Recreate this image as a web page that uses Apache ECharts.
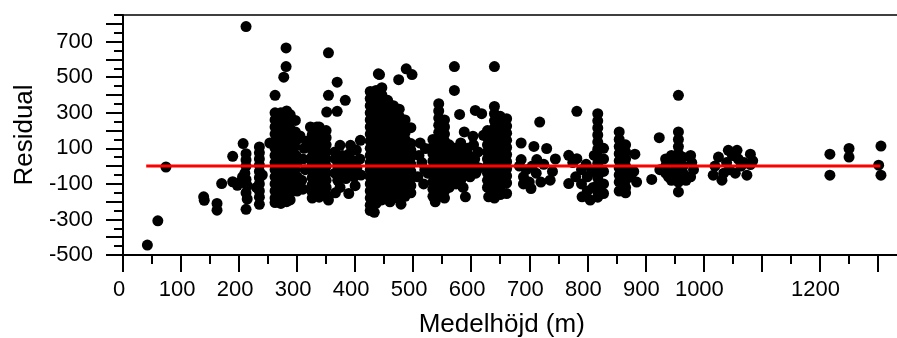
<!DOCTYPE html>
<html>
<head>
<meta charset="utf-8">
<script src="https://cdn.jsdelivr.net/npm/echarts@6/dist/echarts.min.js"></script>
<style>
html,body{margin:0;padding:0;background:#fff;}
#chart{width:897px;height:338px;}
</style>
</head>
<body>
<div id="chart"></div>
<script>
// ---- data: [Medelhöjd (m), Residual] ----
const lowEnd = [[42,-444],[60,-308],[74,-5],[139,-173],[140,-192],[162,-210],[162,-248],[170,-98],[189,55],[189,-88],[197,-108]];
const band210 = [[207,127],[212,785],[212,-243],[212,70],[212,35],[212,0],[210,-40],[212,-75],[214,-110],[212,-150],[214,-185],[204,-85],[206,-60]];
const band235 = [[235,108],[235,75],[235,40],[235,5],[235,-30],[235,-65],[235,-100],[235,-140],[235,-175],[235,-215],[230,-120],[240,-50]];
const band270 = [
  [262,300],[262,260],[262,220],[262,180],[262,140],[262,100],[262,60],[262,20],[262,-20],[262,-60],[262,-100],[262,-140],[262,-180],[262,-205],
  [272,300],[272,260],[272,220],[272,180],[272,140],[272,100],[272,60],[272,20],[272,-20],[272,-60],[272,-100],[272,-140],[272,-180],[272,-210],
  [282,310],[282,270],[282,230],[282,190],[282,150],[282,110],[282,70],[282,30],[282,-10],[282,-50],[282,-90],[282,-130],[282,-170],[282,-200],
  [288,290],[288,250],[288,210],[288,170],[288,130],[288,90],[288,50],[288,10],[288,-30],[288,-70],[288,-110],[288,-150],[288,-190],
  [262,398],[277,500],[281,560],[281,665],[253,130]
];
const band300 = [[297,257],[297,192],[300,150],[296,110],[298,60],[300,20],[296,-20],[300,-60],[297,-100],[300,-140],
  [312,100],[310,40],[314,-20],[308,-80],[310,-130],[305,170],[316,140]];
const band340 = [
  [326,215],[326,175],[326,135],[326,95],[326,55],[326,15],[326,-25],[326,-65],[326,-105],[326,-145],[326,-180],
  [338,220],[338,180],[338,140],[338,100],[338,60],[338,20],[338,-20],[338,-60],[338,-100],[338,-140],[338,-175],
  [350,200],[350,160],[350,120],[350,80],[350,40],[350,0],[350,-40],[350,-80],[350,-120],[350,-160],[354,-191],
  [323,220],[334,220],[328,-154],
  [351,304],[369,308],[354,398],[383,370],[354,637],[369,472]
];
const band390 = [[365,80],[374,117],[392,117],[409,145],[366,40],[378,60],[390,70],[402,90],[370,0],[382,20],[396,30],[408,40],
  [365,-40],[378,-30],[390,-20],[403,-10],[370,-80],[384,-70],[398,-60],[410,-50],[374,-120],[389,-154],[400,-110],[366,-150]];
const band460 = [
  [426,420],[426,380],[426,340],[426,300],[426,260],[426,220],[426,180],[426,140],[426,100],[426,60],[426,20],[426,-20],[426,-60],[426,-100],[426,-140],[426,-180],[426,-220],[426,-250],
  [436,426],[436,390],[436,350],[436,310],[436,270],[436,230],[436,190],[436,150],[436,110],[436,70],[436,30],[436,-10],[436,-50],[436,-90],[436,-130],[436,-170],[436,-210],[433,-260],
  [446,441],[446,400],[446,360],[446,320],[446,280],[446,240],[446,200],[446,160],[446,120],[446,80],[446,40],[446,0],[446,-40],[446,-80],[446,-120],[446,-160],[446,-190],
  [456,370],[456,330],[456,290],[456,250],[456,210],[456,170],[456,130],[456,90],[456,50],[456,10],[456,-30],[456,-70],[456,-110],[456,-150],[460,-201],
  [466,340],[466,300],[466,260],[466,220],[466,180],[466,140],[466,100],[466,60],[466,20],[466,-20],[466,-60],[466,-100],[466,-140],[466,-180],
  [476,320],[476,280],[476,240],[476,200],[476,160],[476,120],[476,80],[476,40],[476,0],[476,-40],[476,-80],[476,-120],[476,-160],[479,-214],
  [486,260],[486,220],[486,188],[486,150],[486,110],[486,70],[486,30],[486,-10],[486,-50],[486,-90],[486,-130],[486,-170],
  [496,216],[496,127],[496,90],[496,50],[496,10],[496,-30],[496,-70],[496,-110],[496,-150],
  [440,519],[442,515],[475,486],[488,547],[498,515]
];
const band515 = [[521,99],[510,60],[515,20],[520,-20],[508,-60],[518,-100],[525,-40],[512,130]];
const band545 = [
  [534,150],[534,110],[534,70],[534,30],[534,-10],[534,-50],[534,-90],[534,-130],[534,-170],
  [544,351],[544,310],[544,270],[544,230],[544,190],[544,150],[544,110],[544,70],[544,30],[544,-10],[544,-50],[544,-90],[544,-130],[544,-170],[538,-201],
  [554,260],[554,220],[554,180],[554,140],[554,100],[554,60],[554,20],[554,-20],[554,-60],[554,-100],[554,-140],[554,-180],
  [562,120],[562,80],[562,40],[562,0],[562,-40],[562,-80],[562,-120]
];
const band590 = [[571,560],[571,426],[580,291],[588,192],[603,168],[621,173],[607,313],[618,295],[590,-173],
  [572,100],[572,60],[572,20],[572,-20],[572,-60],[574,-100],[582,130],[582,80],[584,40],[582,0],[584,-40],[582,-80],[586,-120],
  [594,100],[596,60],[594,20],[596,-20],[598,-60],[604,120],[606,40],[606,0],[608,-40],[612,80],[614,-10]];
const band645 = [
  [628,200],[628,160],[628,120],[628,80],[628,40],[628,0],[628,-40],[628,-80],[628,-120],[630,-173],
  [640,336],[640,295],[640,255],[640,215],[640,175],[640,135],[640,95],[640,55],[640,15],[640,-25],[640,-65],[640,-105],[640,-145],[640,-180],
  [650,280],[650,240],[650,200],[650,160],[650,120],[650,80],[650,40],[650,0],[650,-40],[650,-80],[650,-120],[650,-160],
  [661,267],[661,225],[661,185],[661,145],[661,105],[661,65],[661,25],[661,-15],[661,-55],[661,-95],[661,-154],
  [640,560]
];
const band710 = [[686,130],[708,111],[730,99],[718,248],[686,37],[713,37],[703,-126],[736,-79],
  [695,-20],[690,-60],[705,0],[712,-40],[720,-90],[725,10],[700,-90],[683,0],[690,-100],[740,-30],[745,40]];
const band800 = [[782,308],[768,61],[782,42],[768,-98],[791,-173],[805,-191],[828,-154],
  [818,295],[818,255],[818,215],[818,175],[818,135],[818,95],[818,55],[818,15],[818,-25],[818,-65],[818,-105],[818,-145],[818,-175],
  [775,20],[790,-20],[800,-60],[790,-100],[810,-120],[798,10],[808,-30],[780,-60],[812,60],[800,-140],
  [828,100],[828,40],[828,-30],[828,-100]];
const band860 = [[855,192],[855,150],[855,110],[855,70],[855,30],[855,-10],[855,-50],[855,-90],[855,-140],
  [866,120],[866,80],[866,40],[866,0],[866,-40],[866,-80],[866,-120],[866,-150],
  [882,67],[875,-60],[880,-30],[885,-90]];
const band950 = [[911,-75],[924,160],[957,398],
  [957,192],[957,150],[957,110],[957,70],[957,30],[957,-10],[957,-50],[957,-90],[957,-145],
  [935,40],[935,0],[935,-40],[945,60],[945,-80],[950,20],[950,-30],[965,50],[965,0],[965,-40],[970,-80],[978,60],[980,20],[983,-20],[978,-60],[940,-60],[925,-20]];
const band1050 = [[1026,51],[1043,89],[1058,89],[1081,67],[1081,9],[1017,-51],[1032,-79],[1075,-51],
  [1020,0],[1040,20],[1050,60],[1060,40],[1065,0],[1045,-20],[1055,-40],[1070,20],[1035,-40],[1085,30]];
const highEnd = [[1218,67],[1218,-51],[1251,99],[1251,51],[1306,113],[1302,5],[1306,-51]];

const residualPoints = [].concat(lowEnd, band210, band235, band270, band300, band340, band390, band460,
  band515, band545, band590, band645, band710, band800, band860, band950, band1050, highEnd);

// zero reference line
const zeroLine = [[40,0],[1305,0]];

// axis ticks & labels
const xMajorTicks = [0,100,200,300,400,500,600,700,800,900,1000,1100,1200,1300];
const xMinorTicks = [50,150,250,350,450,550,650,750,850,950,1050,1150,1250];
const xTickLabels = [0,100,200,300,400,500,600,700,800,900,1000,1200];
const yMajorTicks = [-500,-400,-300,-200,-100,0,100,200,300,400,500,600,700,800];
const yMinorTicks = [-450,-350,-250,-150,-50,50,150,250,350,450,550,650,750,850];
const yTickLabels = [-500,-300,-100,100,300,500,700];

const FONT = '"Liberation Sans", Arial, Helvetica, sans-serif';
const chart = echarts.init(document.getElementById('chart'), null, {renderer: 'canvas'});

const baseX = {type:'value', min:0, max:1350, splitLine:{show:false}, position:'bottom', offset:0};
const baseY = {type:'value', min:-500, max:850, splitLine:{show:false}, position:'left', offset:0};
const plain = v => String(v);

chart.setOption({
  animation: false,
  backgroundColor: '#fff',
  grid: {left:123, top:15, width:783.5, height:240, containLabel:false, outerBoundsMode:'none',
         show:true, borderColor:'#000', borderWidth:1.5, backgroundColor:'transparent'},
  xAxis: [
    Object.assign({}, baseX, {
      name: 'Medelhöjd (m)', nameLocation:'middle', nameGap:57,
      nameTextStyle:{fontSize:26, color:'#000', fontFamily:FONT, padding:[0,26,0,0]},
      axisLine:{show:true, onZero:false, lineStyle:{color:'#000', width:2}},
      axisTick:{show:true, length:17, customValues:xMajorTicks, lineStyle:{color:'#000', width:2}},
      axisLabel:{show:true, customValues:xTickLabels, formatter:plain, margin:24, fontSize:22, color:'#000', fontFamily:FONT, padding:[0,8,0,0]}
    }),
    Object.assign({}, baseX, {
      axisLine:{show:false, onZero:false},
      axisTick:{show:true, length:9, customValues:xMinorTicks, lineStyle:{color:'#000', width:2}},
      axisLabel:{show:false}
    })
  ],
  yAxis: [
    Object.assign({}, baseY, {
      name: 'Residual', nameLocation:'middle', nameGap:85,
      nameTextStyle:{fontSize:26, color:'#000', fontFamily:FONT},
      axisLine:{show:true, onZero:false, lineStyle:{color:'#000', width:2}},
      axisTick:{show:true, length:17, customValues:yMajorTicks, lineStyle:{color:'#000', width:2}},
      axisLabel:{show:true, customValues:yTickLabels, formatter:plain, margin:30, fontSize:22, color:'#000', fontFamily:FONT, padding:[14,0,0,0]}
    }),
    Object.assign({}, baseY, {
      axisLine:{show:false, onZero:false},
      axisTick:{show:true, length:9, customValues:yMinorTicks, lineStyle:{color:'#000', width:2}},
      axisLabel:{show:false}
    })
  ],
  series: [
    {
      type:'scatter', xAxisIndex:0, yAxisIndex:0, data:residualPoints,
      symbol:'circle', symbolSize:11, itemStyle:{color:'#000', opacity:1}, silent:true, z:2
    },
    {
      type:'line', xAxisIndex:0, yAxisIndex:0, data:zeroLine, symbol:'none',
      lineStyle:{color:'#ff0000', width:3}, silent:true, z:3
    }
  ]
});
</script>
</body>
</html>
